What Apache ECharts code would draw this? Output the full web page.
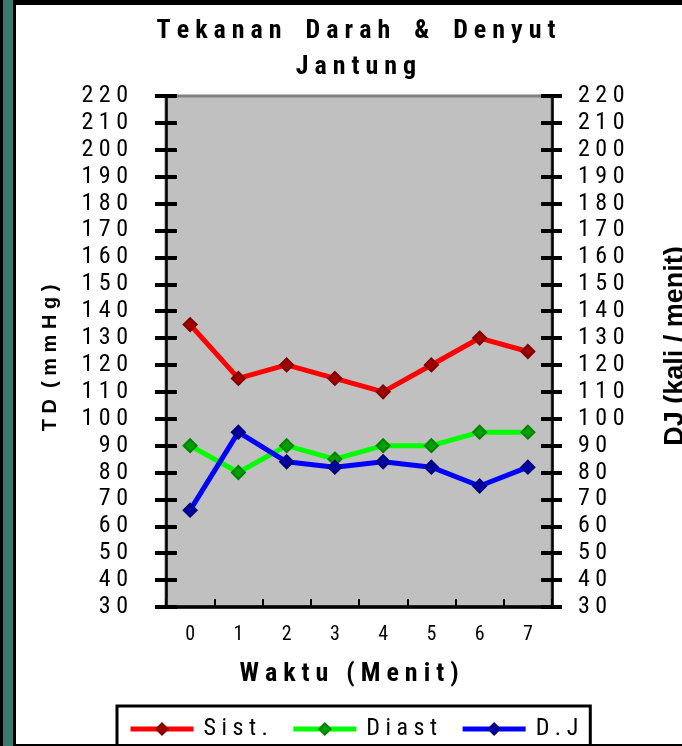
<!DOCTYPE html>
<html><head><meta charset="utf-8">
<script src="https://cdn.jsdelivr.net/npm/echarts@6/dist/echarts.min.js"></script>
<style>html,body{margin:0;padding:0;background:#fff}#c{width:682px;height:746px}</style>
</head><body><div id="c"></div>
<script>
// ---- data ----
const categories = ['0', '1', '2', '3', '4', '5', '6', '7'];
const sistValues = [135, 115, 120, 115, 110, 120, 130, 125];
const diastValues = [90, 80, 90, 85, 90, 90, 95, 95];
const djValues = [66, 95, 84, 82, 84, 82, 75, 82];
const seriesNames = ['Sist.', 'Diast', 'D.J'];
const yMin = 30, yMax = 220, yStep = 10;
const titleText = 'Tekanan Darah & Denyut';
const titleText2 = 'Jantung';
const xName = 'Waktu (Menit)';
const yLeftName = 'TD (mmHg)';
const yRightName = 'DJ (kali / menit)';

// ---- helpers ----
const NARROW = '"Roboto Condensed", "Open Sans Condensed", "DejaVu Sans Condensed", sans-serif';
const SANS = '"Liberation Sans", Arial, sans-serif';
function spaced(s, g, wg) {
  return s.split(' ').map(w => w.split('').join(g)).join(wg);
}
const digitSpace = v => String(v).split('').join(' ');

const chart = echarts.init(document.getElementById('c'), null, {renderer: 'canvas'});

function yAxisBase(pos) {
  return {
    type: 'value', position: pos, min: yMin, max: yMax, interval: yStep,
    splitLine: {show: false}, axisLine: {show: false}, axisLabel: {show: false},
    axisTick: {show: true, inside: true, length: 11, lineStyle: {color: '#000', width: 4}}
  };
}

const option = {
  backgroundColor: '#fff',
  animation: false,
  title: {
    text: spaced(titleText, ' ', '    ') + '\n' + spaced(titleText2, ' ', '    '),
    left: 356, top: 13, padding: 0, textAlign: 'center',
    textStyle: {fontFamily: NARROW, fontWeight: 'bold', fontSize: 26, lineHeight: 36, color: '#000'}
  },
  grid: {
    left: 166, right: 130, top: 96, bottom: 139,
    containLabel: false, outerBoundsMode: 'none',
    show: true, backgroundColor: '#c0c0c0', borderColor: '#808080', borderWidth: 3
  },
  legend: {
    left: 117, top: 706, padding: [11, 12, 20, 11],
    borderColor: '#000', borderWidth: 3, backgroundColor: '#fff',
    itemWidth: 63, itemHeight: 14, itemGap: 23,
    lineStyle: {width: 5},
    formatter: n => n.split('').join(' '),
    textStyle: {fontFamily: NARROW, fontSize: 24, color: '#000', padding: [0, 0, 0, 5]},
    data: seriesNames
  },
  xAxis: {
    type: 'category', data: categories, boundaryGap: true,
    axisLine: {lineStyle: {color: '#000', width: 3.5}},
    axisTick: {show: true, inside: true, length: 8, interval: 0, lineStyle: {color: '#000', width: 2}},
    axisLabel: {margin: 18, fontFamily: NARROW, fontSize: 20, color: '#000'},
    name: spaced(xName, ' ', '   '), nameLocation: 'middle', nameGap: 54,
    nameTextStyle: {fontFamily: NARROW, fontWeight: 'bold', fontSize: 26, color: '#000', padding: [0, 20, 0, 0]}
  },
  yAxis: [
    Object.assign(yAxisBase('left'), {
      axisLine: {show: true, lineStyle: {color: '#000', width: 2.5}},
      axisTick: {show: true, inside: false, length: 11, lineStyle: {color: '#000', width: 4}},
      axisLabel: {show: true, margin: 38, fontFamily: NARROW, fontSize: 24, color: '#000', formatter: digitSpace},
      name: spaced(yLeftName, ' ', '  '), nameLocation: 'middle', nameRotate: 90, nameGap: 106,
      nameTextStyle: {fontFamily: SANS, fontWeight: 'bold', fontSize: 20, color: '#000', padding: [0, 13, 0, 0]}
    }),
    yAxisBase('left'),
    Object.assign(yAxisBase('right'), {
      axisLine: {show: true, lineStyle: {color: '#000', width: 2.5}},
      axisTick: {show: true, inside: false, length: 10, lineStyle: {color: '#000', width: 4}},
      axisLabel: {show: true, margin: 26, fontFamily: NARROW, fontSize: 24, color: '#000', formatter: digitSpace},
      name: yRightName, nameLocation: 'middle', nameRotate: 90, nameGap: 110,
      nameTextStyle: {fontFamily: SANS, fontWeight: 'bold', fontSize: 27, color: '#000', padding: [0, 0, 0, 11]}
    }),
    yAxisBase('right')
  ],
  series: [
    {name: seriesNames[0], type: 'line', data: sistValues, yAxisIndex: 0, symbol: 'diamond', symbolSize: 13,
     lineStyle: {color: '#ff0000', width: 5}, itemStyle: {color: '#a00000', borderColor: '#800000', borderWidth: 2}},
    {name: seriesNames[1], type: 'line', data: diastValues, yAxisIndex: 0, symbol: 'diamond', symbolSize: 13,
     lineStyle: {color: '#00ff00', width: 5}, itemStyle: {color: '#00a000', borderColor: '#008000', borderWidth: 2}},
    {name: seriesNames[2], type: 'line', data: djValues, yAxisIndex: 0, symbol: 'diamond', symbolSize: 13,
     lineStyle: {color: '#0000ff', width: 5}, itemStyle: {color: '#0000a0', borderColor: '#000080', borderWidth: 2}}
  ],
  graphic: [
    {type: 'rect', left: 0, top: 0, shape: {width: 16, height: 746}, style: {fill: '#000'}, z: 100},
    {type: 'rect', left: 3, top: 0, shape: {width: 10, height: 746}, style: {fill: '#3d786c'}, z: 101},
    {type: 'rect', left: 13, top: 0, shape: {width: 669, height: 5}, style: {fill: '#000'}, z: 100},
    {type: 'rect', left: 13, top: 744, shape: {width: 669, height: 2}, style: {fill: '#000'}, z: 100}
  ]
};
chart.setOption(option);
</script></body></html>
